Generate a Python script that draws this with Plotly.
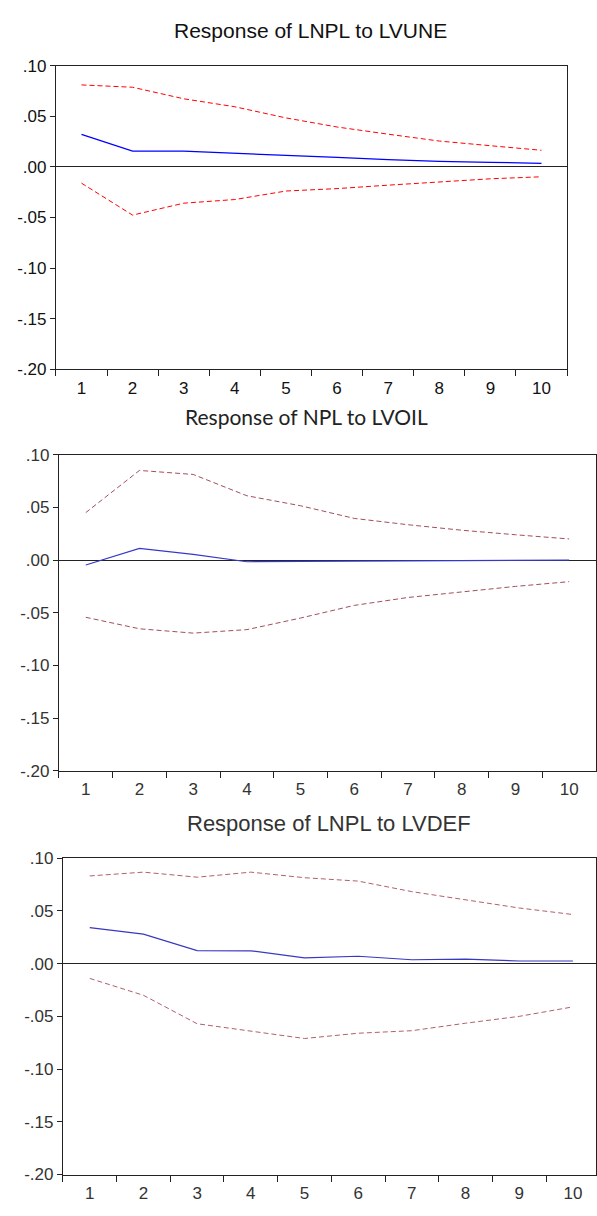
import plotly.graph_objects as go

periods = ["1", "2", "3", "4", "5", "6", "7", "8", "9", "10"]

# Panel 1: Response of LNPL to LVUNE
une_resp = [0.0322, 0.0156, 0.0156, 0.0137, 0.0120, 0.0094, 0.0073, 0.0055, 0.0046, 0.0036]
une_upper = [0.0811, 0.0788, 0.0674, 0.0595, 0.0485, 0.0395, 0.0324, 0.0256, 0.0210, 0.0165]
une_lower = [-0.0160, -0.0476, -0.0358, -0.0322, -0.0238, -0.0214, -0.0180, -0.0149, -0.0117, -0.0097]

# Panel 2: Response of NPL to LVOIL
oil_resp = [-0.0047, 0.0110, 0.0053, -0.0016, -0.0013, -0.0010, -0.0008, -0.0004, 0.0000, 0.0000]
oil_upper = [0.0450, 0.0850, 0.0812, 0.0610, 0.0515, 0.0395, 0.0335, 0.0283, 0.0240, 0.0200]
oil_lower = [-0.0543, -0.0652, -0.0693, -0.0660, -0.0550, -0.0430, -0.0355, -0.0300, -0.0250, -0.0205]

# Panel 3: Response of LNPL to LVDEF
def_resp = [0.0342, 0.0280, 0.0124, 0.0122, 0.0055, 0.0070, 0.0037, 0.0042, 0.0025, 0.0025]
def_upper = [0.0832, 0.0868, 0.0820, 0.0868, 0.0815, 0.0783, 0.0683, 0.0606, 0.0528, 0.0466]
def_lower = [-0.0140, -0.0300, -0.0570, -0.0640, -0.0710, -0.0660, -0.0636, -0.0565, -0.0500, -0.0410]

titles = ["Response of LNPL to LVUNE", "Response of NPL to LVOIL", "Response of LNPL to LVDEF"]
ytick_vals = [0.10, 0.05, 0.00, -0.05, -0.10, -0.15, -0.20]
ytick_text = [".10", ".05", ".00", "-.05", "-.10", "-.15", "-.20"]

W, H = 597, 1216

def px_x(a, b):
    return [a / W, min(b / W, 1.0)]

def px_y(top, bottom):
    return [1 - bottom / H, 1 - top / H]

panels = [
    dict(resp=une_resp, up=une_upper, lo=une_lower, x=px_x(56, 568), y=px_y(57.7, 366),
         xr=[-0.5, 9.5], red="#FF0000", blue="#0000FF", fc="#111111",
         tfont=dict(family="Liberation Sans, Arial", size=21, color="#111111"), tx=311, ty=22),
    dict(resp=oil_resp, up=oil_upper, lo=oil_lower, x=px_x(59, 597), y=px_y(452.7, 774),
         xr=[-0.5, 9.5], red="#a0505a", blue="#3838c8", fc="#333333",
         tfont=dict(family="Lato, Carlito, sans-serif", size=21, color="#222222"), tx=307, ty=414),
    dict(resp=def_resp, up=def_upper, lo=def_lower, x=px_x(63, 597), y=px_y(862.7, 1184),
         xr=[-0.5, 9.43], red="#b06068", blue="#3838c0", fc="#333333",
         tfont=dict(family="Liberation Sans, Arial", size=22, color="#333333"), tx=330, ty=827),
]

fig = go.Figure()
annotations = []
for i, p in enumerate(panels, start=1):
    xa = "x" if i == 1 else f"x{i}"
    ya = "y" if i == 1 else f"y{i}"
    fig.add_trace(go.Scatter(x=periods, y=p["up"], mode="lines", xaxis=xa, yaxis=ya,
                             line=dict(color=p["red"], width=1, dash="5px,3px"), showlegend=False))
    fig.add_trace(go.Scatter(x=periods, y=p["lo"], mode="lines", xaxis=xa, yaxis=ya,
                             line=dict(color=p["red"], width=1, dash="5px,3px"), showlegend=False))
    fig.add_trace(go.Scatter(x=periods, y=p["resp"], mode="lines", xaxis=xa, yaxis=ya,
                             line=dict(color=p["blue"], width=1.2), showlegend=False))
    axfont = dict(family="Liberation Sans, Arial", size=17, color=p["fc"])
    xkey = "xaxis" if i == 1 else f"xaxis{i}"
    ykey = "yaxis" if i == 1 else f"yaxis{i}"
    fig.update_layout(**{
        xkey: dict(domain=p["x"], anchor=ya, type="category", range=p["xr"],
                   tickson="boundaries", ticks="outside", ticklen=6, tickcolor="#222222",
                   showline=True, mirror=True, linecolor="#222222", linewidth=1,
                   showgrid=False, zeroline=False, tickfont=axfont, fixedrange=True,
                   ticklabelstandoff=3),
        ykey: dict(domain=p["y"], anchor=xa, range=[-0.20, 0.10], tickvals=ytick_vals,
                   ticktext=ytick_text, ticks="outside", ticklen=5, tickcolor="#222222",
                   showline=True, mirror=True, linecolor="#222222", linewidth=1,
                   showgrid=False, zeroline=True, zerolinecolor="#222222", zerolinewidth=1,
                   tickfont=axfont, fixedrange=True),
    })
    annotations.append(dict(text=titles[i - 1], x=p["tx"] / W, y=1 - p["ty"] / H,
                            xref="paper", yref="paper", showarrow=False,
                            xanchor="center", yanchor="middle", font=p["tfont"]))

fig.update_layout(width=W, height=H, margin=dict(l=0, r=0, t=0, b=0),
                  paper_bgcolor="white", plot_bgcolor="white", annotations=annotations)

fig.write_html("out.html")
